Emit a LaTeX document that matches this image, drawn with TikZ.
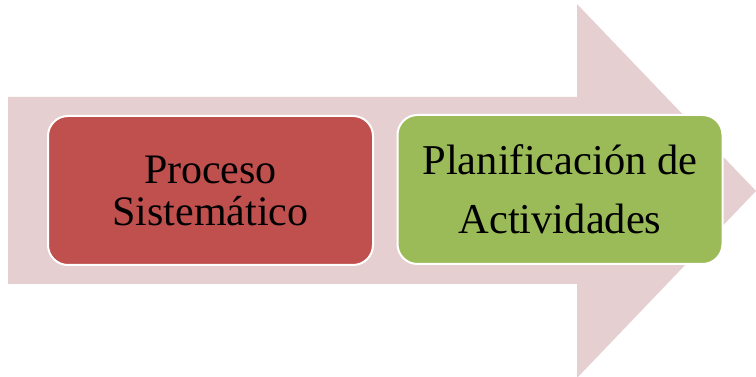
\documentclass[tikz,border=0pt]{standalone}
\usepackage{fontspec}
\setmainfont{Liberation Serif}
\usetikzlibrary{shapes, arrows}

\definecolor{arrowpink}{RGB}{230,207,208}
\definecolor{procred}{RGB}{192,80,77}
\definecolor{planverde}{RGB}{155,187,89}

\begin{document}
\begin{tikzpicture}[x=1pt, y=-1pt,
	paso/.style={draw=white, line width=2pt, rounded corners=20pt,
		minimum width=325pt, minimum height=149pt, inner sep=0pt,
		align=center, text=black},
	]
	\useasboundingbox (0,0) rectangle (756,377);
	% big background arrow
	\fill[arrowpink] (8,97) -- (577,97) -- (577,4) -- (756,191)
	-- (577,378) -- (577,284) -- (8,284) -- cycle;
	\node[paso, fill=procred,
	font=\fontsize{42}{42}\selectfont,
	] (proceso) at (210.5,190.5) {Proceso\\Sistemático};
	\node[paso, fill=planverde,
	font=\fontsize{42.5}{59}\selectfont,
	] (planif) at (560,189.5) {Planificación de\\Actividades};
\end{tikzpicture}
\end{document}
